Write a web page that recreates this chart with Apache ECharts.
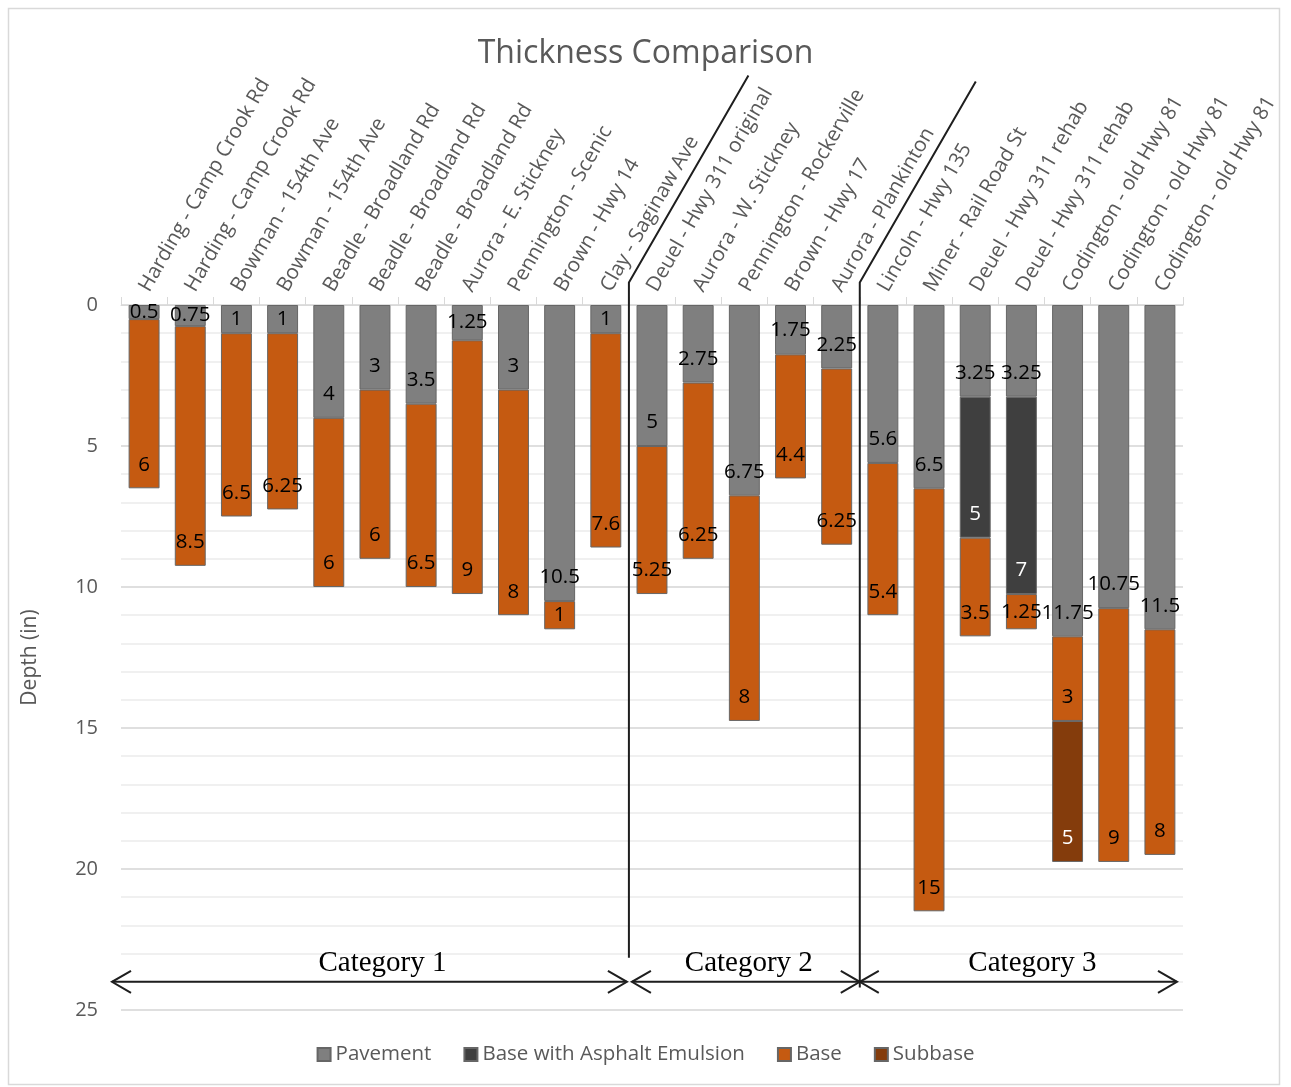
<!DOCTYPE html>
<html>
<head>
<meta charset="utf-8">
<title>Thickness Comparison</title>
<script src="https://cdn.jsdelivr.net/npm/echarts@6/dist/echarts.min.js"></script>
<style>
  html, body { margin: 0; padding: 0; background: #ffffff; }
  #chart { width: 1291px; height: 1087px; }
</style>
</head>
<body>
<div id="chart"></div>
<script>
// Road sections, in display order
const sections = [
  'Harding - Camp Crook Rd', 'Harding - Camp Crook Rd', 'Bowman - 154th Ave', 'Bowman - 154th Ave',
  'Beadle - Broadland Rd', 'Beadle - Broadland Rd', 'Beadle - Broadland Rd', 'Aurora - E. Stickney',
  'Pennington - Scenic', 'Brown - Hwy 14', 'Clay - Saginaw Ave',
  'Deuel - Hwy 311 original', 'Aurora - W. Stickney', 'Pennington - Rockerville', 'Brown - Hwy 17',
  'Aurora - Plankinton',
  'Lincoln - Hwy 135', 'Miner - Rail Road St', 'Deuel - Hwy 311 rehab', 'Deuel - Hwy 311 rehab',
  'Codington - old Hwy 81', 'Codington - old Hwy 81', 'Codington - old Hwy 81'
];

// Layer thicknesses (in), top to bottom; null where the layer is absent
const pavement = [0.5, 0.75, 1, 1, 4, 3, 3.5, 1.25, 3, 10.5, 1,
                  5, 2.75, 6.75, 1.75, 2.25,
                  5.6, 6.5, 3.25, 3.25, 11.75, 10.75, 11.5];
const emulsion = [null, null, null, null, null, null, null, null, null, null, null,
                  null, null, null, null, null,
                  null, null, 5, 7, null, null, null];
const base     = [6, 8.5, 6.5, 6.25, 6, 6, 6.5, 9, 8, 1, 7.6,
                  5.25, 6.25, 8, 4.4, 6.25,
                  5.4, 15, 3.5, 1.25, 3, 9, 8];
const subbase  = [null, null, null, null, null, null, null, null, null, null, null,
                  null, null, null, null, null,
                  null, null, null, null, 5, null, null];

// Depth axis ticks
const depthTicks = { min: 0, max: 25, step: 5 };

// Section groups along the axis: first and last index of each
const groups = [
  { name: 'Category 1', first: 0, last: 10 },
  { name: 'Category 2', first: 11, last: 15 },
  { name: 'Category 3', first: 16, last: 22 }
];

const TEXT_GRAY = '#595959';
const FONT = '"Open Sans", "Noto Sans", sans-serif';

// Thin layers get a centred label; thicker ones sit near the bottom of the layer
function toItems(values) {
  return values.map(function (v) {
    if (v == null) return '-';
    if (v < 1.8) return { value: v, label: { position: 'inside' } };
    return { value: v, label: { position: 'insideBottom', distance: 13 } };
  });
}

function layer(name, values, color, labelColor) {
  return {
    name: name,
    type: 'bar',
    stack: 'depth',
    barCategoryGap: '33%',
    data: toItems(values),
    itemStyle: { color: color, borderColor: '#666666', borderWidth: 1 },
    label: {
      show: true,
      color: labelColor,
      fontFamily: FONT,
      fontSize: 20.5,
      formatter: function (p) { return String(p.value); }
    },
    emphasis: { disabled: true }
  };
}

const chart = echarts.init(document.getElementById('chart'), null, { renderer: 'canvas' });

chart.setOption({
  animation: false,
  backgroundColor: '#ffffff',
  title: {
    text: 'Thickness Comparison',
    left: 'center',
    top: 33,
    textStyle: { color: TEXT_GRAY, fontFamily: FONT, fontSize: 32, fontWeight: 'normal' }
  },
  legend: {
    bottom: 17,
    left: 'center',
    icon: 'rect',
    itemWidth: 13,
    itemHeight: 13,
    itemGap: 32,
    textStyle: { color: TEXT_GRAY, fontFamily: FONT, fontSize: 20.5 },
    data: ['Pavement', 'Base with Asphalt Emulsion', 'Base', 'Subbase']
  },
  grid: { left: 121, right: 108, top: 305, bottom: 77, containLabel: false },
  xAxis: {
    type: 'category',
    position: 'top',
    data: sections,
    axisLine: { show: true, lineStyle: { color: '#d9d9d9', width: 1 } },
    axisTick: { show: true, length: 8, alignWithLabel: false, lineStyle: { color: '#d9d9d9' } },
    axisLabel: {
      interval: 0,
      rotate: 60,
      margin: 15,
      color: TEXT_GRAY,
      fontFamily: FONT,
      fontSize: 20.5
    }
  },
  yAxis: {
    type: 'value',
    inverse: true,
    min: depthTicks.min,
    max: depthTicks.max,
    interval: depthTicks.step,
    name: 'Depth (in)',
    nameLocation: 'middle',
    nameGap: 80,
    nameTextStyle: { color: TEXT_GRAY, fontFamily: FONT, fontSize: 21 },
    axisLine: { show: false },
    axisTick: { show: false },
    axisLabel: { color: TEXT_GRAY, fontFamily: FONT, fontSize: 20, margin: 23 },
    splitLine: { show: true, lineStyle: { color: '#d4d4d4', width: 1.5 } },
    minorTick: { show: false, splitNumber: 5 },
    minorSplitLine: { show: true, lineStyle: { color: '#ebebeb', width: 1.5 } }
  },
  series: [
    layer('Pavement', pavement, '#7f7f7f', '#000000'),
    layer('Base with Asphalt Emulsion', emulsion, '#3f3f3f', '#ffffff'),
    layer('Base', base, '#c55a11', '#000000'),
    layer('Subbase', subbase, '#843c0c', '#ffffff')
  ]
});

// Group dividers, spanning arrows and group names, placed from the axes
function drawGroups() {
  const at = function (i, depth) { return chart.convertToPixel({ gridIndex: 0 }, [i, depth]); };
  const half = (at(1, 0)[0] - at(0, 0)[0]) / 2;
  const leftEdge = function (i) { return at(i, 0)[0] - half; };
  const rightEdge = function (i) { return at(i, 0)[0] + half; };
  const yOf = function (depth) { return at(0, depth)[1]; };

  const ink = { stroke: '#1e1e1e', lineWidth: 2, fill: null };
  const elements = [];
  const arrowY = yOf(24.0);
  const textY = yOf(23.35);
  const elbowY = yOf(-0.8);

  // Dividers between groups: vertical below the axis, slanted along the labels above it
  const dividerBottoms = [23.15, 24.2];
  const dividerLengths = [239, 232];
  for (let g = 1; g < groups.length; g++) {
    const x = leftEdge(groups[g].first);
    const len = dividerLengths[g - 1];
    const ang = 60 * Math.PI / 180;
    elements.push({
      type: 'polyline',
      shape: { points: [[x, yOf(dividerBottoms[g - 1])], [x, elbowY], [x + len * Math.cos(ang), elbowY - len * Math.sin(ang)]] },
      style: ink,
      z: 100
    });
  }

  function arrowHead(tipX, dir) {
    return {
      type: 'polyline',
      shape: { points: [[tipX + dir * 19, arrowY - 11], [tipX, arrowY], [tipX + dir * 19, arrowY + 11]] },
      style: ink,
      z: 100
    };
  }

  // Horizontal nudges for the group names
  const nameShift = [13, 3, 14];

  groups.forEach(function (grp, g) {
    let x0 = leftEdge(grp.first);
    let x1 = rightEdge(grp.last);
    if (g === 0) x0 -= 9; else if (g === 1) x0 += 3;
    if (g === 0) x1 -= 2;
    if (g === groups.length - 1) x1 -= 6;
    elements.push({ type: 'line', shape: { x1: x0, y1: arrowY, x2: x1, y2: arrowY }, style: ink, z: 100 });
    elements.push(arrowHead(x0, 1));
    elements.push(arrowHead(x1, -1));
    elements.push({
      type: 'text',
      x: (x0 + x1) / 2 + nameShift[g],
      y: textY,
      style: {
        text: grp.name,
        fill: '#000000',
        font: '29px "Liberation Serif", "Times New Roman", serif',
        textAlign: 'center',
        textVerticalAlign: 'middle'
      },
      z: 100
    });
  });

  // Outer frame of the chart area
  elements.push({
    type: 'rect',
    shape: { x: 8.5, y: 8.5, width: 1271, height: 1076 },
    style: { fill: null, stroke: '#d9d9d9', lineWidth: 1.5 },
    z: 0,
    silent: true
  });

  chart.setOption({ graphic: elements });
}

drawGroups();
</script>
</body>
</html>
